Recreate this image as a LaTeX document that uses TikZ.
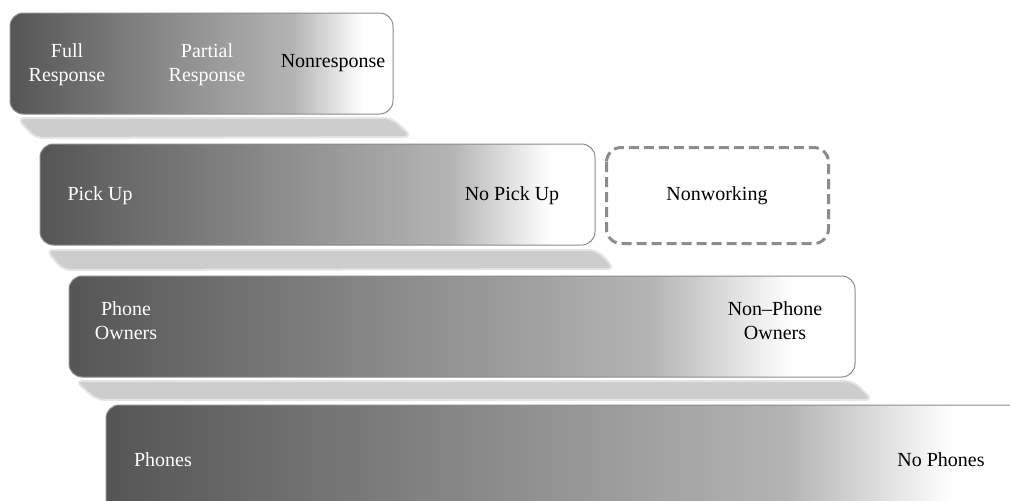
\documentclass[tikz,border=0pt]{standalone}
\usepackage{fontspec}
\setmainfont{Liberation Serif}

\definecolor{boxdark}{RGB}{85,85,85}
\definecolor{boxmid}{RGB}{180,180,180}
\definecolor{rimgray}{RGB}{140,140,140}
\definecolor{reflgray}{RGB}{205,205,205}
\pgfdeclarehorizontalshading{fadebar}{100bp}{color(0bp)=(boxdark); color(25bp)=(boxdark); color(62bp)=(boxmid); color(71bp)=(white); color(100bp)=(white)}

\tikzset{
  panel/.style={draw=rimgray, line width=0.75pt, rounded corners=10pt, shade, shading=fadebar},
  refl/.style={fill=reflgray, draw=reflgray!55, line width=1.5pt, rounded corners=6pt},
  dashbox/.style={draw=rimgray, line width=2.25pt, dash pattern=on 7.5pt off 3.75pt, rounded corners=11pt},
  lbl/.style={font=\fontsize{15}{18}\selectfont, align=center, inner sep=0pt},
  lblw/.style={lbl, text=white}
}

\begin{document}
\begin{tikzpicture}[x=0.75pt,y=0.75pt,yscale=-1,xscale=1]
\useasboundingbox (0,0) rectangle (1010,500);
\clip (0,0) rectangle (1010,500);

%Shape: Reflections
\draw [refl] (17,118) -- (392,118) -- (412,137) -- (35,138) -- cycle ;
\draw [refl] (46,250) -- (597,250) -- (615,269) -- (63,270) -- cycle ;
\draw [refl] (75,381) -- (853,381) -- (873,400) -- (97,400) -- cycle ;

%Shape: Bars
\draw [panel] (10,13) rectangle (393,114) ;
\draw [panel] (40,144) rectangle (595,245) ;
\draw [panel] (69,276) rectangle (855,377) ;
\draw [panel] (106,405) rectangle (1026,530) ;

%Shape: Dashed box
\draw [dashbox] (606.5,147.5) rectangle (828.5,243.5) ;

% Text Node
\node [lblw] (full) at (67,65) {Full\\Response};
\node [lblw] (partial) at (207,65) {Partial\\Response};
\node [lbl] (nonresp) at (333,63) {Nonresponse};
% Text Node
\node [lblw] (pickup) at (100,196) {Pick Up};
\node [lbl] (nopickup) at (512,196) {No Pick Up};
\node [lbl] (nonwork) at (717,196) {Nonworking};
% Text Node
\node [lblw] (owners) at (126,321) {Phone\\Owners};
\node [lbl] (nonowners) at (775,321) {Non--Phone\\Owners};
% Text Node
\node [lblw] (phones) at (163,460) {Phones};
\node [lbl] (nophones) at (941,460) {No Phones};

\end{tikzpicture}
\end{document}
